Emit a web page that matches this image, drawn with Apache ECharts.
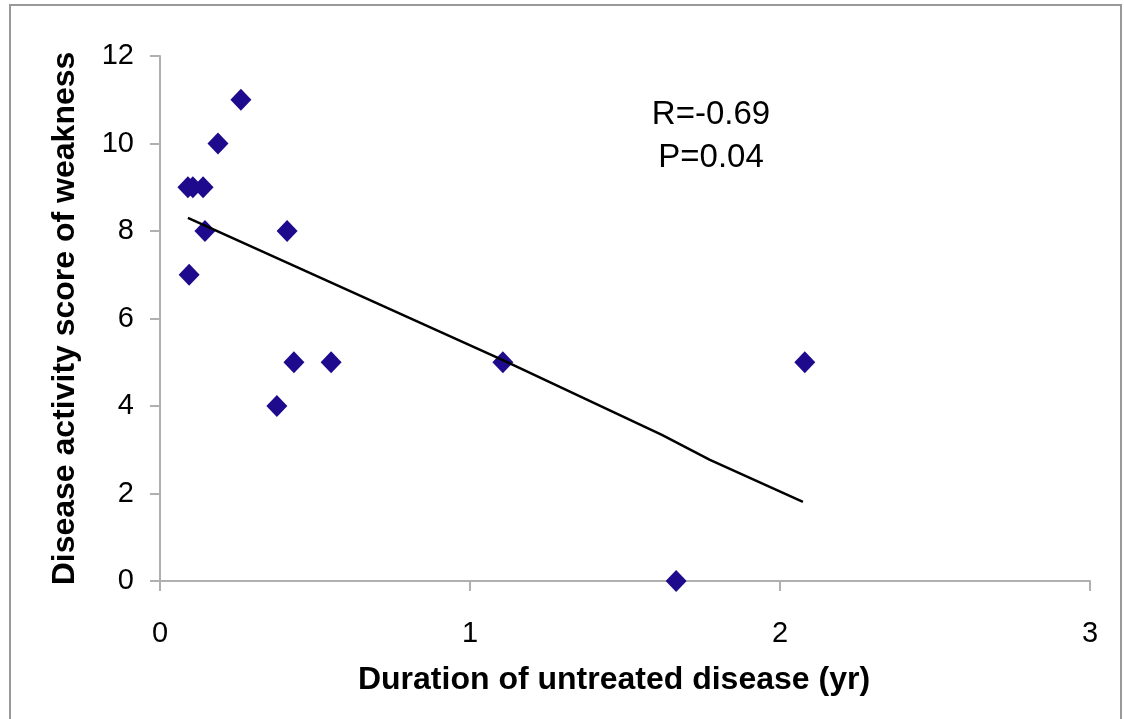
<!DOCTYPE html>
<html>
<head>
<meta charset="utf-8">
<script src="https://cdn.jsdelivr.net/npm/echarts@6/dist/echarts.min.js"></script>
<style>
html,body{margin:0;padding:0;background:#fff;}
#chart{width:1124px;height:719px;}
</style>
</head>
<body>
<div id="chart"></div>
<script>
// Scatter points: duration of untreated disease (yr) vs disease activity score
const durationYr = [0.09, 0.094, 0.106, 0.139, 0.145, 0.187, 0.261, 0.377, 0.41, 0.432, 0.552, 1.106, 1.665, 2.08];
const weaknessScore = [9, 7, 9, 9, 8, 10, 11, 4, 8, 5, 5, 5, 0, 5];
// Trend line as drawn
const trendX = [0.09, 1.106, 1.619, 1.774, 2.074];
const trendY = [8.30, 5.05, 3.34, 2.77, 1.81];
const xTicks = [0, 1, 2, 3];
const yTicks = [0, 2, 4, 6, 8, 10, 12];
const statsText = ['R=-0.69', 'P=0.04'];

const chart = echarts.init(document.getElementById('chart'));
const axisGray = '#b0b0b0';
const font = '"Liberation Sans", Arial, sans-serif';

chart.setOption({
  backgroundColor: '#fff',
  animation: false,
  grid: {left: 160, right: 34, top: 56, bottom: 138},
  xAxis: {
    type: 'value', min: xTicks[0], max: xTicks[xTicks.length - 1], interval: 1,
    splitLine: {show: false},
    axisLine: {show: true, lineStyle: {color: axisGray, width: 2}},
    axisTick: {show: true, length: 10, lineStyle: {color: axisGray, width: 2}},
    axisLabel: {color: '#000', fontSize: 29, fontFamily: font, margin: 38},
    name: 'Duration of untreated disease (yr)',
    nameLocation: 'middle', nameGap: 83,
    nameTextStyle: {color: '#000', fontSize: 32, fontWeight: 'bold', fontFamily: font, padding: [0, 22, 0, 0]}
  },
  yAxis: {
    type: 'value', min: yTicks[0], max: yTicks[yTicks.length - 1], interval: 2,
    splitLine: {show: false},
    axisLine: {show: true, lineStyle: {color: axisGray, width: 2}},
    axisTick: {show: true, length: 10, lineStyle: {color: axisGray, width: 2}},
    axisLabel: {color: '#000', fontSize: 29, fontFamily: font, margin: 26},
    name: 'Disease activity score of weakness',
    nameLocation: 'middle', nameGap: 79,
    nameTextStyle: {color: '#000', fontSize: 32, fontWeight: 'bold', fontFamily: font}
  },
  series: [
    {
      type: 'line',
      data: trendX.map((x, i) => [x, trendY[i]]),
      showSymbol: false, symbol: 'none',
      lineStyle: {color: '#000', width: 2.5},
      z: 3
    },
    {
      type: 'scatter',
      data: durationYr.map((x, i) => [x, weaknessScore[i]]),
      symbol: 'diamond', symbolSize: [21, 22],
      itemStyle: {color: '#1e0a8c', opacity: 1},
      z: 2
    }
  ],
  graphic: [
    {type: 'rect', shape: {x: 10, y: 5, width: 1111, height: 740},
     style: {fill: 'none', stroke: '#999', lineWidth: 2}, silent: true},
    {type: 'text', x: 711, y: 115,
     style: {text: statsText[0], fill: '#000', font: '33px ' + font, align: 'center', verticalAlign: 'middle'}},
    {type: 'text', x: 711, y: 158,
     style: {text: statsText[1], fill: '#000', font: '33px ' + font, align: 'center', verticalAlign: 'middle'}}
  ]
});
</script>
</body>
</html>
